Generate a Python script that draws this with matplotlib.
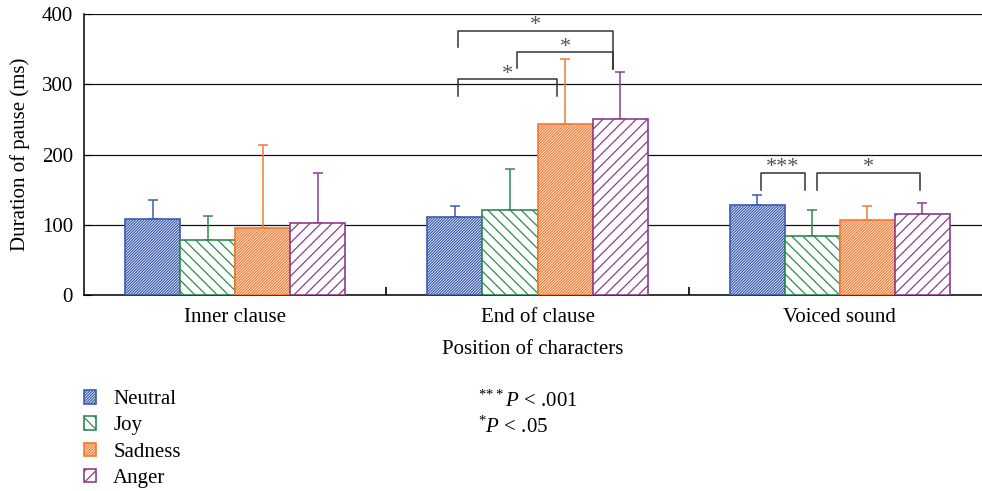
import matplotlib
matplotlib.use('Agg')
import matplotlib.pyplot as plt
import numpy as np

plt.rcParams['font.family'] = ['Liberation Serif', 'DejaVu Serif']
plt.rcParams['mathtext.fontset'] = 'custom'
plt.rcParams['mathtext.rm'] = 'Liberation Serif'
plt.rcParams['mathtext.it'] = 'Liberation Serif:italic'
plt.rcParams['hatch.linewidth'] = 0.9

# 数据
groups = ['Inner clause', 'End of clause', 'Voiced sound']
emotions = ['Neutral', 'Joy', 'Sadness', 'Anger']
neutral = [108, 111, 128]
joy = [78, 121, 84]
sadness = [95, 244, 107]
anger = [102, 250, 115]
neutral_sd = [27, 16, 14]
joy_sd = [34, 58, 37]
sadness_sd = [118, 92, 20]
anger_sd = [72, 67, 16]

# 显著性标注: (左x, 右x, 横线y, 左腿底y, 右腿底y, 星号)
brackets = [
    (0.737, 1.250, 376, 353, 322, '*'),
    (0.932, 1.250, 346, 323, 322, '*'),
    (0.737, 1.064, 307, 283, 283, '*'),
    (1.739, 1.884, 174, 149, 149, '***'),
    (1.924, 2.264, 174, 149, 149, '*'),
]

colors = ['#3c5cae', '#2e8b50', '#f47a30', '#8c3d8a']
hatches = ['/' * 12, '\\' * 3, '/' * 12, '/' * 3]
values = [neutral, joy, sadness, anger]
sds = [neutral_sd, joy_sd, sadness_sd, anger_sd]
fs = 15

fig = plt.figure(figsize=(9.82, 4.91), dpi=100)
ax = fig.add_axes([0.0855, 0.399, 0.9145, 0.5725])

x = np.arange(len(groups))
w = 0.182
for k in range(4):
    pos = x + (k - 1.5) * w
    ax.errorbar(pos, values[k], yerr=[np.zeros(3), sds[k]], fmt='none',
                ecolor=colors[k], elinewidth=1.1, capsize=3.5, capthick=1.1, zorder=2)
    ax.bar(pos, values[k], width=w, facecolor='white', edgecolor=colors[k],
           hatch=hatches[k], linewidth=1.2, label=emotions[k], zorder=3)

for xl, xr, yb, yll, ylr, s in brackets:
    ax.plot([xl, xl, xr, xr], [yll, yb, yb, ylr], color='#333333', lw=1.1, zorder=4)
    ax.text((xl + xr) / 2, yb + 7, s, ha='center', va='center', fontsize=16,
            color='#555555')

ax.set_xlim(-0.5, 2.47)
ax.set_ylim(0, 400)
ax.set_yticks([0, 100, 200, 300, 400])
ax.yaxis.grid(True, color='#111111', lw=0.9, zorder=0)
ax.set_axisbelow(True)
ax.set_xticks(x)
ax.set_xticklabels(groups, fontsize=fs)
ax.set_xticks([0.5, 1.5], minor=True)
ax.tick_params(axis='x', which='major', length=0, pad=9)
ax.tick_params(axis='x', which='minor', direction='in', length=6, width=1.2)
ax.tick_params(axis='y', direction='in', length=5, labelsize=fs, pad=8)
for sp in ['top', 'right']:
    ax.spines[sp].set_visible(False)
ax.spines['left'].set_linewidth(1.1)
ax.spines['bottom'].set_linewidth(1.1)
ax.set_xlabel('Position of characters', fontsize=fs, labelpad=10)
ax.set_ylabel('Duration of pause (ms)', fontsize=fs, labelpad=8)

leg = fig.legend(loc='upper left', bbox_to_anchor=(0.0855, 0.205), frameon=False,
                 fontsize=fs, handlelength=0.6, handleheight=0.6,
                 labelspacing=0.34, handletextpad=0.8, borderaxespad=0,
                 borderpad=0)

fig.text(0.487, 0.183, r'$^{*\!*\!*}\mathit{P}$ < .001', fontsize=fs, va='center')
fig.text(0.487, 0.130, r'$^{*}\mathit{P}$ < .05', fontsize=fs, va='center')

fig.savefig('out.png', dpi=100)
